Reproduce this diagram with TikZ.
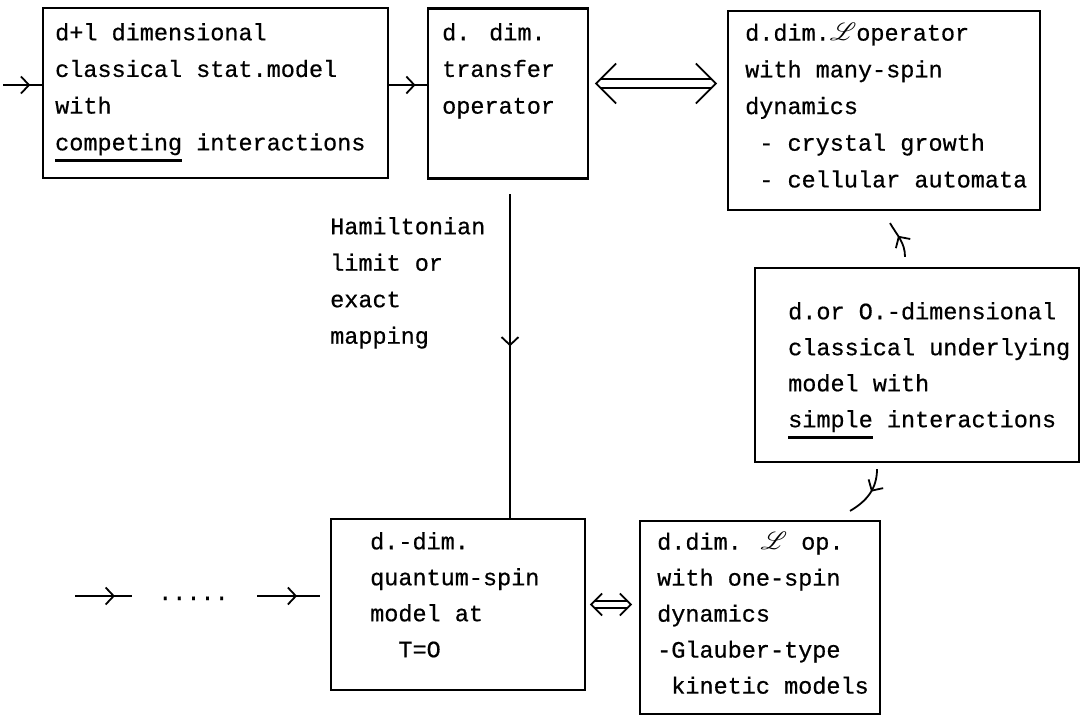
\documentclass[tikz,border=0pt]{standalone}
\usepackage{fontspec}
\usepackage{mathrsfs}
\usetikzlibrary{arrows.meta,decorations.markings}
\newfontfamily\typewriter{Liberation Mono}[FakeBold=0.6]
\tikzset{
  box/.style={draw, line width=2.2pt, inner sep=0pt},
  txt/.style={anchor=north west, inner sep=0pt, align=left, font=\typewriter\fontsize{23.5pt}{#1}\selectfont},
  txt/.default=36pt,
  link/.style={line width=1.8pt},
  midhead/.style={postaction={decorate}, decoration={markings, mark=at position #1 with {\arrow{Straight Barb[length=8pt,width=17pt,line width=1.8pt]}}}},
  uline/.style={line width=2.4pt},
}
\begin{document}
\begin{tikzpicture}[x=1pt, y=-1pt]
\useasboundingbox (0,0) rectangle (1089,719);
\node[box, minimum width=345pt, minimum height=170pt] (classic) at (215.5,93) {};
\node[box, minimum width=160pt, minimum height=170pt] (transfer) at (508,93.5) {};
\node[box, minimum width=312pt, minimum height=199pt] (manyspin) at (884,110.5) {};
\node[box, minimum width=324pt, minimum height=194pt] (underlying) at (917,365) {};
\node[box, minimum width=254pt, minimum height=171pt] (quantum) at (458,604.5) {};
\node[box, minimum width=240pt, minimum height=193pt] (onespin) at (760,617.5) {};

\node[txt=36.7pt] (classictxt) at (55,23) {d+l dimensional\\classical stat.model\\with\\competing interactions};
\node[txt=36.7pt] (transfertxt) at (442,23) {d. dim.\\transfer\\operator};
\node[txt=36.7pt] (manyspintxt) at (745,23) {d.dim.$\mathscr{L}$operator\\with many-spin\\dynamics\\~- crystal growth\\~- cellular automata};
\node[txt] (underlyingtxt) at (788,302) {d.or O.-dimensional\\classical underlying\\model with\\simple interactions};
\node[txt] (quantumtxt) at (370,532) {d.-dim.\\quantum-spin\\model at\\~~T=O};
\node[txt] (onespintxt) at (657,532) {d.dim. $\mathscr{L}$ op.\\with one-spin\\dynamics\\-Glauber-type\\~kinetic models};
\node[txt=36.5pt] (maplabel) at (330,217) {Hamiltonian\\limit or\\exact\\mapping};
\draw[uline] ([yshift=-5pt]classictxt.south west) -- ++(127,0);
\draw[uline] ([yshift=-5pt]underlyingtxt.south west) -- ++(85,0);

\coordinate (inlet) at (3,85);
\draw[link, midhead=0.7] (inlet) -- (inlet -| classic.west);
\coordinate (ab) at ([yshift=8pt]classic.east);
\draw[link, midhead=0.7] (ab) -- (ab -| transfer.west);

\path ([shift={(7,-10)}]transfer.east) coordinate (lt);
\path (manyspin.west |- lt) ++(-11,0) coordinate (rt);
\draw[link, double distance=7pt, shorten <=4pt, shorten >=4pt] (lt) -- (rt);
\draw[link] ([shift={(20,-20)}]lt) -- (lt) -- ([shift={(20,20)}]lt);
\draw[link] ([shift={(-20,-20)}]rt) -- (rt) -- ([shift={(-20,20)}]rt);

\coordinate (maptop) at ([shift={(2,14.5)}]transfer.south);
\draw[link, midhead=0.47] (maptop) -- (maptop |- quantum.north);

\path ([shift={(-12,-10)}]underlying.north) coordinate (up0);
\path ([shift={(6,12)}]manyspin.south) coordinate (up1);
\draw[link, midhead=0.6] (up0) to[out=90, in=-60] (up1);
\path ([shift={(-40,6)}]underlying.south) coordinate (dn0);
\path ([shift={(90,-9)}]onespin.north) coordinate (dn1);
\draw[link, midhead=0.45] (dn0) to[out=-90, in=30] (dn1);

\coordinate (farleft) at (75,596);
\coordinate (farmid) at (132,596);
\draw[link, midhead=0.7] (farleft) -- (farmid);
\node[anchor=base west, inner sep=0pt, font=\typewriter\fontsize{23.5pt}{36pt}\selectfont] (dots) at (158,600) {.....};
\coordinate (leadin) at (257,596);
\draw[link, midhead=0.55, shorten >=10pt] (leadin) -- (leadin -| quantum.west);

\path ([xshift=5pt]quantum.east) coordinate (el);
\path (onespin.west |- el) ++(-8,0) coordinate (er);
\draw[link, double distance=5pt, shorten <=3pt, shorten >=3pt] (el) -- (er);
\draw[link] ([shift={(11,-11)}]el) -- (el) -- ([shift={(11,11)}]el);
\draw[link] ([shift={(-11,-11)}]er) -- (er) -- ([shift={(-11,11)}]er);
\end{tikzpicture}
\end{document}
